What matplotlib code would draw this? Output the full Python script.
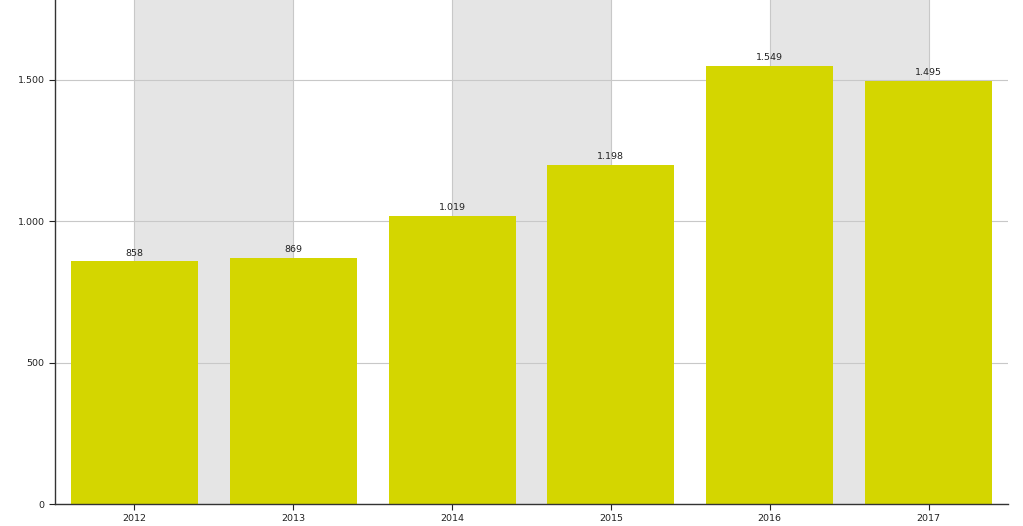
import matplotlib.pyplot as plt
from matplotlib.ticker import FuncFormatter

years = ['2012', '2013', '2014', '2015', '2016', '2017']
values = [858, 869, 1019, 1198, 1549, 1495]

fig = plt.figure(figsize=(10.23, 5.26), dpi=100)
ax = fig.add_axes([55 / 1023, 22 / 526, 953 / 1023, 504 / 526])

x = range(len(years))

# grey bands between pairs of category centres
for i in range(0, len(years), 2):
    ax.axvspan(i, i + 1, color='#e5e5e5', zorder=0, lw=0)

ax.set_axisbelow(True)
ax.grid(True, color='#c8c8c8', linewidth=0.8)

bars = ax.bar(x, values, width=0.8, color='#d4d600', zorder=2)

for xi, v in zip(x, values):
    ax.text(xi, v + 14, f'{v:,}'.replace(',', '.'), ha='center', va='bottom',
            fontsize=6.8, color='#222222', zorder=3)

ax.set_xlim(-0.5, 5.5)
ax.set_ylim(0, 1783)
ax.set_xticks(list(x))
ax.set_xticklabels(years)
ax.set_yticks([0, 500, 1000, 1500])
ax.yaxis.set_major_formatter(FuncFormatter(lambda v, p: f'{int(v):,}'.replace(',', '.')))
ax.tick_params(axis='both', labelsize=6.8, colors='#222222', length=4)

for s in ['top', 'right']:
    ax.spines[s].set_visible(False)
for s in ['left', 'bottom']:
    ax.spines[s].set_color('#333333')
    ax.spines[s].set_linewidth(1)

fig.savefig('out.png', dpi=100)
